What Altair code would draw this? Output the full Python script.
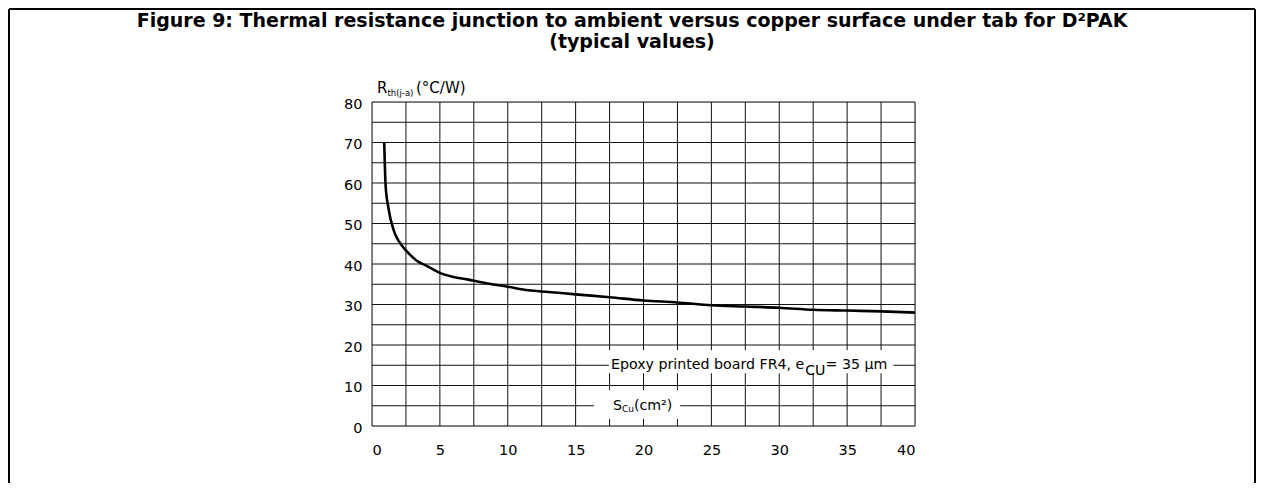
import altair as alt
import pandas as pd

# ---- data ----
s_cu = [0.9, 0.95, 1.0, 1.2, 1.6, 2.0, 2.6, 3.3, 4.0, 5.0, 6.0, 7.0, 8.5, 10.0,
        11.5, 13.0, 15.0, 17.5, 20.0, 22.5, 25.0, 27.5, 30.0, 32.5, 35.0, 37.5, 40.0]
rth = [70.0, 64.0, 59.5, 54.0, 48.3, 45.5, 43.0, 40.8, 39.6, 37.8, 36.8, 36.2, 35.2, 34.4,
       33.5, 33.1, 32.5, 31.8, 31.0, 30.5, 29.8, 29.5, 29.2, 28.7, 28.5, 28.3, 28.0]

x_grid = [i * 2.5 for i in range(17)]
y_grid = [i * 5 for i in range(17)]
x_labels = [0, 5, 10, 15, 20, 25, 30, 35, 40]
y_labels = [0, 10, 20, 30, 40, 50, 60, 70, 80]

title_lines = ["Figure 9: Thermal resistance junction to ambient versus copper surface under tab for D\u00b2PAK",
               "(typical values)"]

# annotation boxes (data units)
box_x = [17.45, 16.35]
box_x2 = [38.4, 22.7]
box_y = [13.0, 1.7]
box_y2 = [18.7, 8.8]

FONT = "DejaVu Sans"
W, H = 543, 324

curve_df = pd.DataFrame({"x": s_cu, "y": rth})
box_df = pd.DataFrame({"x": box_x, "x2": box_x2, "y": box_y, "y2": box_y2})

xscale = alt.Scale(domain=[0, 40], nice=False, zero=False)
yscale = alt.Scale(domain=[0, 80], nice=False)

vgrid = alt.Chart(pd.DataFrame({"g": x_grid})).mark_rule(color="#111", strokeWidth=1).encode(
    x=alt.X("g:Q", scale=xscale, axis=alt.Axis(
        values=x_labels, grid=False, domain=False, ticks=False,
        labelPadding=17, labelFontSize=14.5, labelFont=FONT, labelColor="#000", title=None)))
hgrid = alt.Chart(pd.DataFrame({"g": y_grid})).mark_rule(color="#111", strokeWidth=1).encode(
    y=alt.Y("g:Q", scale=yscale, axis=alt.Axis(
        values=y_labels, grid=False, domain=False, ticks=False,
        labelPadding=10, labelFontSize=14.5, labelFont=FONT, labelColor="#000",
        labelOffset=2, title=None)))

curve = alt.Chart(curve_df).mark_line(color="black", strokeWidth=2.6, interpolate="monotone").encode(
    x=alt.X("x:Q", scale=xscale), y=alt.Y("y:Q", scale=yscale))

boxes = alt.Chart(box_df).mark_rect(color="white").encode(
    x=alt.X("x:Q", scale=xscale), x2="x2:Q",
    y=alt.Y("y:Q", scale=yscale), y2="y2:Q",
)

def txt(text, dx=0, dy=0, size=14, x=17.6, y=15.0, align="left"):
    d = pd.DataFrame({"x": [x], "y": [y]})
    return alt.Chart(d).mark_text(text=text, font=FONT, fontSize=size, align=align,
                                  baseline="middle", dx=dx, dy=dy, color="black").encode(
        x=alt.X("x:Q", scale=xscale), y=alt.Y("y:Q", scale=yscale))

AS = 14.2
w1 = 13.68 * AS
ann1 = txt("Epoxy printed board FR4, e", size=AS, x=17.6, y=15.0)
ann2 = txt("CU", dx=w1, dy=6, size=AS, x=17.6, y=15.0)
ann3 = txt("= 35 \u00b5m", dx=w1 + 1.43 * AS, size=AS, x=17.6, y=15.0)

sc1 = txt("S", size=AS, x=17.75, y=5.0)
sc2 = txt("Cu", dx=0.635 * AS, dy=3, size=9, x=17.75, y=5.0)
sc3 = txt("(cm\u00b2)", dx=0.635 * AS + 1.332 * 9, size=AS, x=17.75, y=5.0)

def pix_text(text, x, y, size=15, weight="normal", align="left", baseline="alphabetic"):
    d = pd.DataFrame({"t": [text]})
    return alt.Chart(d).mark_text(font=FONT, fontSize=size, fontWeight=weight, align=align,
                                  baseline=baseline, color="black").encode(
        text="t:N", x=alt.value(x), y=alt.value(y))

ya1 = pix_text("R", 5, -9, size=15)
ya2 = pix_text("th(j-a)", 5 + 0.695 * 15, -6, size=8.5)
ya3 = pix_text("(\u00b0C/W)", 44, -9, size=15)

tl1 = pix_text(title_lines[0], 260, -81, size=19, weight="bold", align="center", baseline="middle")
tl2 = pix_text(title_lines[1], 260, -60, size=19, weight="bold", align="center", baseline="middle")

# outer frame (left, top, right)
frame_l = alt.Chart(pd.DataFrame({"a": [0]})).mark_rule(color="black", strokeWidth=2).encode(
    x=alt.value(-363), y=alt.value(-93), y2=alt.value(420))
frame_t = alt.Chart(pd.DataFrame({"a": [0]})).mark_rule(color="black", strokeWidth=2).encode(
    x=alt.value(-363), x2=alt.value(883), y=alt.value(-93))
frame_r = alt.Chart(pd.DataFrame({"a": [0]})).mark_rule(color="black", strokeWidth=2).encode(
    x=alt.value(883), y=alt.value(-93), y2=alt.value(420))

chart = alt.layer(vgrid, hgrid, boxes, curve, ann1, ann2, ann3, sc1, sc2, sc3, ya1, ya2, ya3,
                  tl1, tl2, frame_l, frame_t, frame_r).properties(
    width=W, height=H,
    autosize=alt.AutoSizeParams(type="none"),
    padding={"left": 364, "top": 94, "right": 341, "bottom": 57},
).configure_view(stroke="black", strokeWidth=1.5).configure(background="white")

chart.save("out.html", embed_options={"renderer": "svg", "actions": False})
